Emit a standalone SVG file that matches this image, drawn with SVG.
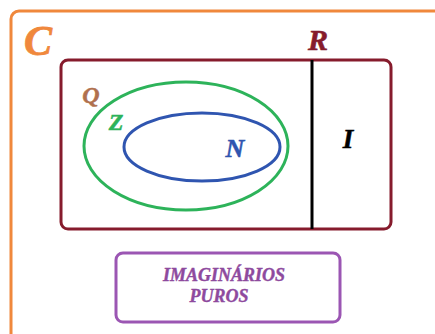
<svg xmlns="http://www.w3.org/2000/svg" width="435" height="334" viewBox="0 0 435 334">
<style>
text{font-family:"Liberation Serif","DejaVu Serif",serif;font-weight:bold;font-style:italic;text-anchor:middle}
</style>
<rect width="435" height="334" fill="#fff"/>
<g id="C">
<rect x="11" y="11" width="440" height="340" rx="8" fill="none" stroke="#F0883C" stroke-width="3"/>
<text x="38" y="55" font-size="42" fill="#F0883C" stroke="#F0883C" stroke-width="0.8">C</text>
</g>
<g id="R">
<rect x="61" y="60" width="330" height="169" rx="7" fill="none" stroke="#861B2C" stroke-width="3"/>
<text x="318" y="50" font-size="30" fill="#861B2C" stroke="#861B2C" stroke-width="0.6">R</text>
</g>
<g id="connectors">
<line x1="312" y1="60" x2="312" y2="229" stroke="#000" stroke-width="3"/>
</g>
<g id="Q">
<text x="91" y="103" font-size="24" fill="#B0704E" stroke="#B0704E" stroke-width="0.5">Q</text>
</g>
<g id="Z">
<ellipse cx="186" cy="146" rx="102" ry="64" fill="none" stroke="#2DB35A" stroke-width="3"/>
<text x="116" y="130" font-size="24" fill="#2DB35A" stroke="#2DB35A" stroke-width="0.5">Z</text>
</g>
<g id="N">
<ellipse cx="202" cy="147" rx="78" ry="34" fill="none" stroke="#2F55B0" stroke-width="3"/>
<text x="235" y="157" font-size="26" fill="#2F55B0" stroke="#2F55B0" stroke-width="0.5">N</text>
</g>
<g id="I">
<text x="348" y="148" font-size="27" fill="#000" stroke="#000" stroke-width="0.5">I</text>
</g>
<g id="imaginarios">
<rect x="116" y="253" width="224" height="69" rx="7" fill="none" stroke="#9B56B3" stroke-width="3"/>
<text x="224" y="281" font-size="18" fill="#8E4A9E" stroke="#8E4A9E" stroke-width="0.4" textLength="122" lengthAdjust="spacingAndGlyphs">IMAGINÁRIOS</text>
<text x="219" y="302" font-size="18" fill="#8E4A9E" stroke="#8E4A9E" stroke-width="0.4">PUROS</text>
</g>
</svg>
